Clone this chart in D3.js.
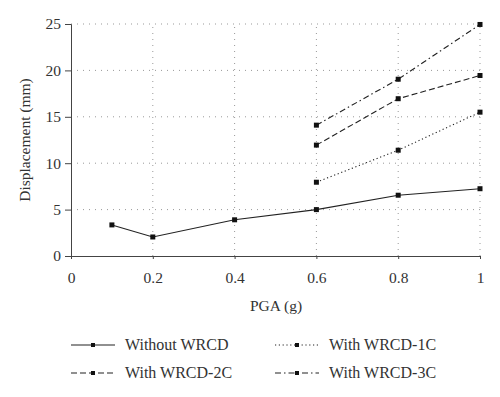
<!DOCTYPE html>
<html>
<head>
<meta charset="utf-8">
<script src="https://cdn.jsdelivr.net/npm/d3@7"></script>
<style>
  body { margin: 0; background: #fff; }
  svg text { font-family: "Liberation Serif", "DejaVu Serif", serif; fill: #333; }
</style>
</head>
<body>
<svg width="500" height="397"></svg>
<script>
// data
var pga = [0.1, 0.2, 0.4, 0.6, 0.8, 1];
var pgaWith = [0.6, 0.8, 1];
var withoutWRCD = [3.35, 2.05, 3.9, 5.0, 6.55, 7.25];
var wrcd1C = [7.95, 11.4, 15.5];
var wrcd2C = [11.95, 16.95, 19.45];
var wrcd3C = [14.1, 19.05, 24.95];
var xTicks = [0, 0.2, 0.4, 0.6, 0.8, 1];
var yTicks = [0, 5, 10, 15, 20, 25];

var series = [
  { name: "Without WRCD", x: pga, y: withoutWRCD, dash: null },
  { name: "With WRCD-1C", x: pgaWith, y: wrcd1C, dash: "1.2,2.6" },
  { name: "With WRCD-2C", x: pgaWith, y: wrcd2C, dash: "6,3" },
  { name: "With WRCD-3C", x: pgaWith, y: wrcd3C, dash: "6,3,1.5,3" }
];

var svg = d3.select("svg");
var x = d3.scaleLinear().domain([0, 1]).range([71, 480]);
var y = d3.scaleLinear().domain([0, 25]).range([256, 24]);

// grid
var grid = svg.append("g");
grid.selectAll(".gx")
  .data(xTicks.slice(1))
  .enter()
  .append("line")
  .attr("x1", (d) => x(d)).attr("x2", (d) => x(d))
  .attr("y1", y(0)).attr("y2", y(25))
  .attr("stroke", "#999").attr("stroke-width", 1)
  .attr("stroke-dasharray", "1,5");
grid.selectAll(".gy")
  .data(yTicks.slice(1))
  .enter()
  .append("line")
  .attr("x1", x(0)).attr("x2", x(1))
  .attr("y1", (d) => y(d)).attr("y2", (d) => y(d))
  .attr("stroke", "#999").attr("stroke-width", 1)
  .attr("stroke-dasharray", "1,5");

// axes
var xAxis = svg.append("g")
  .attr("transform", "translate(0," + y(0) + ")")
  .call(d3.axisBottom(x).tickValues(xTicks).tickSize(3).tickPadding(13)
    .tickFormat((d) => d3.format("")(d)));
var yAxis = svg.append("g")
  .attr("transform", "translate(" + x(0) + ",0)")
  .call(d3.axisLeft(y).tickValues(yTicks).tickSize(6).tickPadding(4));
[xAxis, yAxis].forEach(function (a) {
  a.attr("font-family", null).attr("font-size", null);
  a.select(".domain").attr("stroke", "#444");
  a.selectAll(".tick line").attr("stroke", "#444");
  a.selectAll("text").attr("fill", "#333")
    .style("font-size", "15.5px")
    .style("font-family", "'Liberation Serif', serif");
});

svg.append("text")
  .attr("transform", "translate(30,140) rotate(-90)")
  .attr("text-anchor", "middle")
  .style("font-size", "15.5px")
  .text("Displacement (mm)");

svg.append("text")
  .attr("x", 276).attr("y", 311)
  .attr("text-anchor", "middle")
  .style("font-size", "15.5px")
  .text("PGA (g)");

// lines
var line = d3.line().x((d) => x(d[0])).y((d) => y(d[1]));
series.forEach(function (s) {
  var pts = s.x.map((v, i) => [v, s.y[i]]);
  svg.append("path")
    .attr("d", line(pts))
    .attr("fill", "none")
    .attr("stroke", "#222")
    .attr("stroke-width", 1.1)
    .attr("stroke-dasharray", s.dash);
  svg.selectAll(null)
    .data(pts)
    .enter()
    .append("rect")
    .attr("x", (d) => x(d[0]) - 2.5)
    .attr("y", (d) => y(d[1]) - 2.5)
    .attr("width", 5).attr("height", 5)
    .attr("fill", "#111");
});

// legend
var legendPos = [
  { lx: 71, ty: 345 },
  { lx: 275, ty: 345 },
  { lx: 71, ty: 373 },
  { lx: 275, ty: 373 }
];
series.forEach(function (s, i) {
  var p = legendPos[i];
  var g = svg.append("g");
  g.append("line")
    .attr("x1", p.lx).attr("x2", p.lx + 44)
    .attr("y1", p.ty).attr("y2", p.ty)
    .attr("stroke", "#222").attr("stroke-width", 1.1)
    .attr("stroke-dasharray", s.dash);
  g.append("rect")
    .attr("x", p.lx + 22 - 2).attr("y", p.ty - 2)
    .attr("width", 4).attr("height", 4)
    .attr("fill", "#111");
  g.append("text")
    .attr("x", p.lx + 54).attr("y", p.ty + 5)
    .style("font-size", "16px")
    .text(s.name);
});
</script>
</body>
</html>
